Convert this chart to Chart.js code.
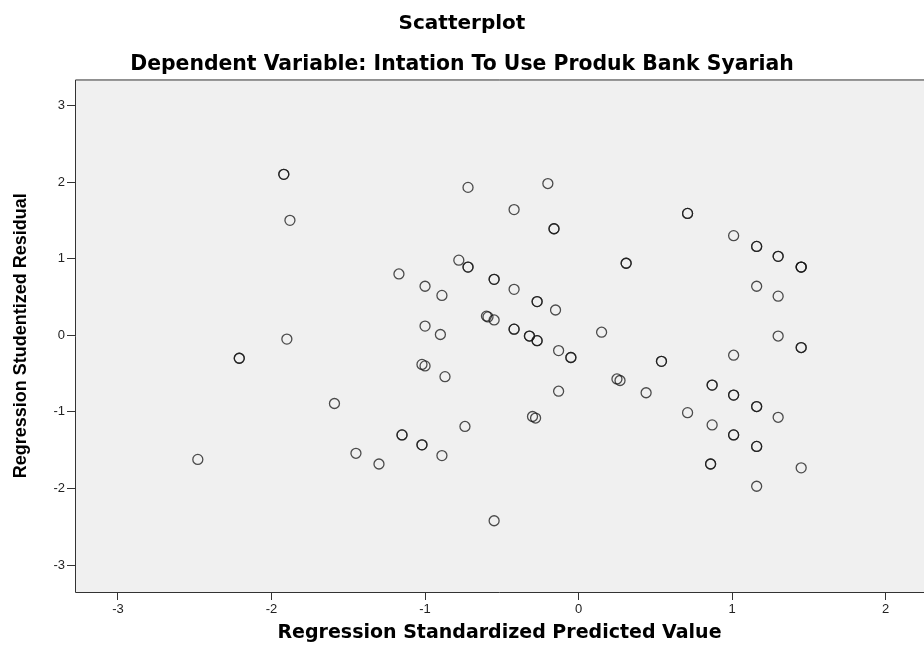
<!DOCTYPE html>
<html>
<head>
<meta charset="utf-8">
<title>Scatterplot</title>
<script src="https://cdn.jsdelivr.net/npm/chart.js@4.4.1/dist/chart.umd.min.js"></script>
<style>
  html, body { margin: 0; padding: 0; background: #fff; }
</style>
</head>
<body>
<canvas id="scatter" width="924" height="655"></canvas>
<script>
/* values (repeated pairs = overlapping cases) */
const predicted = [
  -2.48, -2.21, -2.21, -1.92, -1.92, -1.88, -1.90, -1.59, -1.45, -1.30,
  -1.15, -1.15, -1.17, -1.00, -1.00, -1.02, -1.00, -1.02, -1.02, -0.89,
  -0.90, -0.87, -0.89, -0.78, -0.72, -0.72, -0.72, -0.74, -0.60, -0.59,
  -0.55, -0.55, -0.55, -0.55, -0.42, -0.42, -0.42, -0.42, -0.27, -0.27,
  -0.32, -0.32, -0.27, -0.27, -0.15, -0.30, -0.28, -0.20, -0.16, -0.16,
  -0.13, -0.05, -0.05, -0.13, 0.15, 0.31, 0.31, 0.25, 0.27, 0.44,
  0.54, 0.54, 0.71, 0.71, 0.71, 0.87, 0.87, 0.87, 0.86, 0.86,
  1.01, 1.01, 1.01, 1.01, 1.01, 1.01, 1.16, 1.16, 1.16, 1.16,
  1.16, 1.16, 1.16, 1.16, 1.30, 1.30, 1.30, 1.30, 1.30, 1.45,
  1.45, 1.45, 1.45, 1.45, 1.45
];
const residual = [
  -1.62, -0.30, -0.30, 2.10, 2.10, 1.50, -0.05, -0.89, -1.54, -1.68,
  -1.30, -1.30, 0.80, 0.64, 0.12, -0.38, -0.40, -1.43, -1.43, 0.52,
  0.01, -0.54, -1.57, 0.98, 0.89, 0.89, 1.93, -1.19, 0.25, 0.24,
  0.20, 0.73, 0.73, -2.42, 1.64, 0.60, 0.08, 0.08, 0.44, 0.44,
  -0.01, -0.01, -0.07, -0.07, 0.33, -1.06, -1.08, 1.98, 1.39, 1.39,
  -0.20, -0.29, -0.29, -0.73, 0.04, 0.94, 0.94, -0.57, -0.59, -0.75,
  -0.34, -0.34, -1.01, 1.59, 1.59, -0.65, -0.65, -1.17, -1.68, -1.68,
  1.30, -0.26, -0.78, -0.78, -1.30, -1.30, 1.16, 1.16, 0.64, -0.93,
  -0.93, -1.45, -1.45, -1.97, 1.03, 1.03, 0.51, -0.01, -1.07, 0.89,
  0.89, 0.89, -0.16, -0.16, -1.73
];
const xTicks = [-3, -2, -1, 0, 1, 2];
const yTicks = [-3, -2, -1, 0, 1, 2, 3];

const titleText = "Scatterplot";
const subtitleText = "Dependent Variable: Intation To Use Produk Bank Syariah";
const xTitle = "Regression Standardized Predicted Value";
const yTitle = "Regression Studentized Residual";

const points = predicted.map((x, i) => ({x: x, y: residual[i]}));

/* grey plot panel; frame on left, top and bottom (right side runs off the image) */
const panelPlugin = {
  id: "panel",
  beforeDatasetsDraw(chart) {
    const {ctx, chartArea: a, width} = chart;
    ctx.save();
    ctx.fillStyle = "#f0f0f0";
    ctx.fillRect(a.left, a.top, width - a.left, a.bottom - a.top);
    ctx.restore();
  },
  afterDraw(chart) {
    const {ctx, chartArea: a, width} = chart;
    ctx.save();
    ctx.strokeStyle = "#333";
    ctx.lineWidth = 1;
    ctx.beginPath();
    ctx.moveTo(width, a.top + 0.5);
    ctx.lineTo(a.left + 0.5, a.top + 0.5);
    ctx.lineTo(a.left + 0.5, a.bottom + 0.5);
    ctx.lineTo(width, a.bottom + 0.5);
    ctx.stroke();
    ctx.restore();
  }
};

const axisGrid = {drawOnChartArea: false, drawTicks: true, tickLength: 8, color: "#333"};
const tickFont = {family: "Liberation Sans", size: 13};

new Chart(document.getElementById("scatter"), {
  type: "scatter",
  data: {
    datasets: [{
      data: points,
      pointStyle: "circle",
      pointRadius: 5,
      pointHoverRadius: 5,
      borderWidth: 1.3,
      borderColor: "rgba(20,20,20,0.75)",
      backgroundColor: "rgba(0,0,0,0)"
    }]
  },
  options: {
    responsive: false,
    animation: false,
    devicePixelRatio: 1,
    layout: {padding: 0, autoPadding: false},
    plugins: {
      legend: {display: false},
      tooltip: {enabled: false},
      title: {
        display: true, text: titleText, color: "#000",
        font: {family: "DejaVu Sans", size: 20, weight: "bold"},
        padding: {top: 12, bottom: 16}
      },
      subtitle: {
        display: true, text: subtitleText, color: "#000",
        font: {family: "DejaVu Sans", size: 20.4, weight: "bold"},
        padding: {top: 0, bottom: 3}
      }
    },
    scales: {
      x: {
        type: "linear", min: -3.28, max: 2.25,
        afterBuildTicks: s => { s.ticks = xTicks.map(v => ({value: v})); },
        afterFit: s => { s.height = 63; },
        grid: axisGrid,
        border: {display: false},
        ticks: {font: tickFont, color: "#222", padding: 2},
        title: {
          display: true, text: xTitle, color: "#000",
          font: {family: "DejaVu Sans", size: 19, weight: "bold"},
          padding: {top: 4, bottom: 11}
        }
      },
      y: {
        type: "linear", min: -3.35, max: 3.338,
        afterBuildTicks: s => { s.ticks = yTicks.map(v => ({value: v})); },
        afterFit: s => { s.width = 75; },
        grid: axisGrid,
        border: {display: false},
        ticks: {font: tickFont, color: "#222", padding: 2},
        title: {
          display: true, text: yTitle, color: "#000",
          font: {family: "Liberation Sans", size: 18, weight: "bold"},
          padding: {top: 10, bottom: 4}
        }
      }
    }
  },
  plugins: [panelPlugin]
});
</script>
</body>
</html>
